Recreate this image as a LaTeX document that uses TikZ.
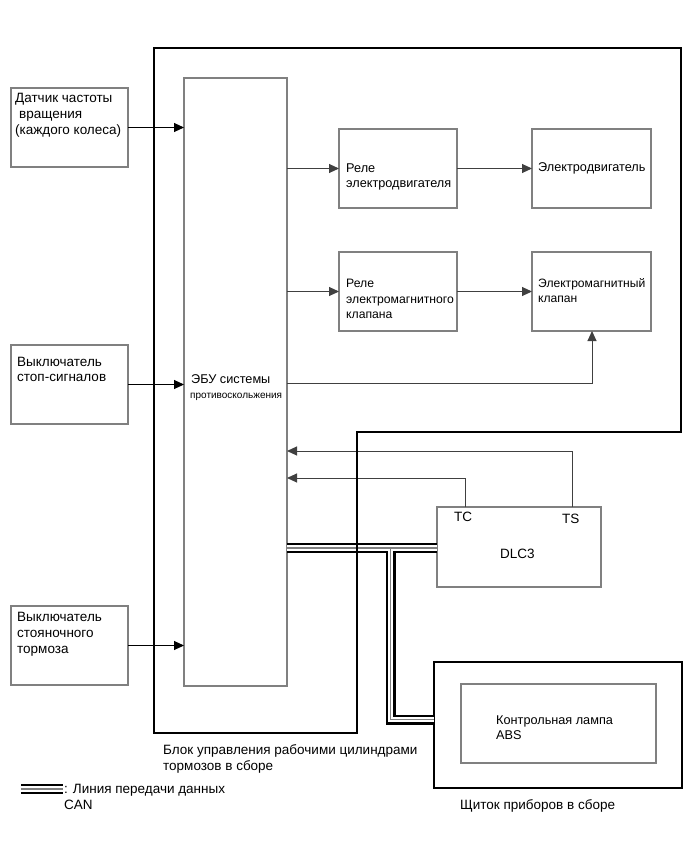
\documentclass[tikz,border=0pt]{standalone}
\usepackage{fontspec}
\setmainfont{Liberation Sans}
\usetikzlibrary{arrows.meta}
\definecolor{boxgray}{HTML}{808080}
\definecolor{linegray}{HTML}{404040}
\begin{document}
\begin{tikzpicture}[x=1pt,y=-1pt,
  box/.style={draw=boxgray, line width=1.2pt, inner sep=0pt, outer sep=0pt, anchor=north west},
  bigbox/.style={draw=black, line width=1.6pt, inner sep=0pt, outer sep=0pt, anchor=north west},
  lbl/.style={inner sep=0pt, anchor=base west, align=left, font=\fontsize{13.5}{16}\selectfont},
  ilbl/.style={inner sep=0pt, anchor=base west, align=left, font=\fontsize{12.7}{15.5}\selectfont},
  arr/.style={-{Triangle[length=10pt,width=9pt]}, line width=1pt, draw=black},
  arrg/.style={-{Triangle[length=10pt,width=9pt]}, line width=1pt, draw=linegray},
]
\useasboundingbox (0,0) rectangle (689,853);

% boxes
\node[box, minimum width=117pt, minimum height=79pt] (dat) at (11,88) {};
\node[box, minimum width=117pt, minimum height=79pt] (stop) at (11,345) {};
\node[box, minimum width=117pt, minimum height=79pt] (stoy) at (11,606) {};
\node[box, minimum width=103pt, minimum height=608pt] (ecu) at (184,78) {};
\node[box, minimum width=118pt, minimum height=79pt] (rele) at (339,129) {};
\node[box, minimum width=119pt, minimum height=79pt] (motor) at (532,129) {};
\node[box, minimum width=118pt, minimum height=79pt] (rele2) at (339,252) {};
\node[box, minimum width=119pt, minimum height=79pt] (klap) at (532,252) {};
\node[box, minimum width=164pt, minimum height=80pt] (dlc) at (437,507) {};
\node[bigbox, minimum width=248pt, minimum height=126pt] (clus) at (434,662) {};
\node[box, minimum width=195pt, minimum height=79pt] (lamp) at (461,684) {};

% texts (anchor = baseline of the last line)
\node[lbl] (datT) at (15,135) {Датчик частоты\\\hspace{4pt}вращения\\(каждого колеса)};
\node[lbl, font=\fontsize{13.5}{15}\selectfont] (stopT) at (17,381) {Выключатель\\стоп-сигналов};
\node[lbl] (stoyT) at (17,653.7) {Выключатель\\стояночного\\тормоза};
\node[ilbl] (ecuT1) at (191,383.3) {ЭБУ системы};
\node[ilbl, font=\fontsize{10}{12}\selectfont] (ecuT2) at (190,398.3) {противоскольжения};
\node[ilbl, font=\fontsize{12.7}{15.2}\selectfont] (releT) at (346,187.5) {Реле\\электродвигателя};
\node[ilbl] (motorT) at (538,171.7) {Электродвигатель};
\node[ilbl, font=\fontsize{12.2}{15.5}\selectfont] (rele2T) at (346,318.7) {Реле\\электромагнитного\\клапана};
\node[ilbl, font=\fontsize{12.1}{15}\selectfont] (klapT) at (538,302.7) {Электромагнитный\\клапан};
\node[lbl] (tcT) at (454,521) {TC};
\node[lbl] (tsT) at (562,523.3) {TS};
\node[lbl] (dlcT) at (500,558.3) {DLC3};
\node[ilbl, font=\fontsize{12.7}{15}\selectfont] (kontT) at (496,739) {Контрольная лампа\\ABS};
\node[lbl] (shchT) at (460,809.3) {Щиток приборов в сборе};
\node[lbl, font=\fontsize{13.5}{15.5}\selectfont] (blokT) at (163,770) {Блок управления рабочими цилиндрами\\тормозов в сборе};
\node[lbl] (legT) at (64,809) {: Линия передачи данных\\CAN};

% coordinates
\coordinate (klY) at (592,383);
\coordinate (tcY) at (465,478);
\coordinate (tsY) at (572,451);
\coordinate (canH) at (390.5,548);
\coordinate (canC) at (390.5,719.5);
\coordinate (leg1) at (21,789);
\coordinate (leg2) at (63,789);

% connectors
\draw[arr] (dat.east) -- (dat.east -| ecu.west);
\draw[arr] (stop.east) -- (stop.east -| ecu.west);
\draw[arr] (stoy.east) -- (stoy.east -| ecu.west);
\draw[arrg] (ecu.east |- rele.west) -- (rele.west);
\draw[arrg] (rele.east) -- (motor.west);
\draw[arrg] (ecu.east |- rele2.west) -- (rele2.west);
\draw[arrg] (rele2.east) -- (klap.west);
\draw[arrg] (ecu.east |- klY) -| (klap.south -| klY);
\draw[arrg] (dlc.north -| tcY) |- (ecu.east |- tcY);
\draw[arrg] (dlc.north -| tsY) |- (ecu.east |- tsY);

% CAN lines
\foreach \w/\c in {10/black,5.6/white,1.2/gray}{
  \draw[line width=\w pt, draw=\c] (ecu.east |- canH) -- (dlc.west |- canH);
  \draw[line width=\w pt, draw=\c] (canH) -- (canC) -- (clus.west |- canC);
  \draw[line width=\w pt, draw=\c] (leg1) -- (leg2);
}

% outer block
\draw[line width=2pt] (154,48) -- (681,48) -- (681,432) -- (357,432) -- (357,733) -- (154,733) -- cycle;
\end{tikzpicture}
\end{document}
